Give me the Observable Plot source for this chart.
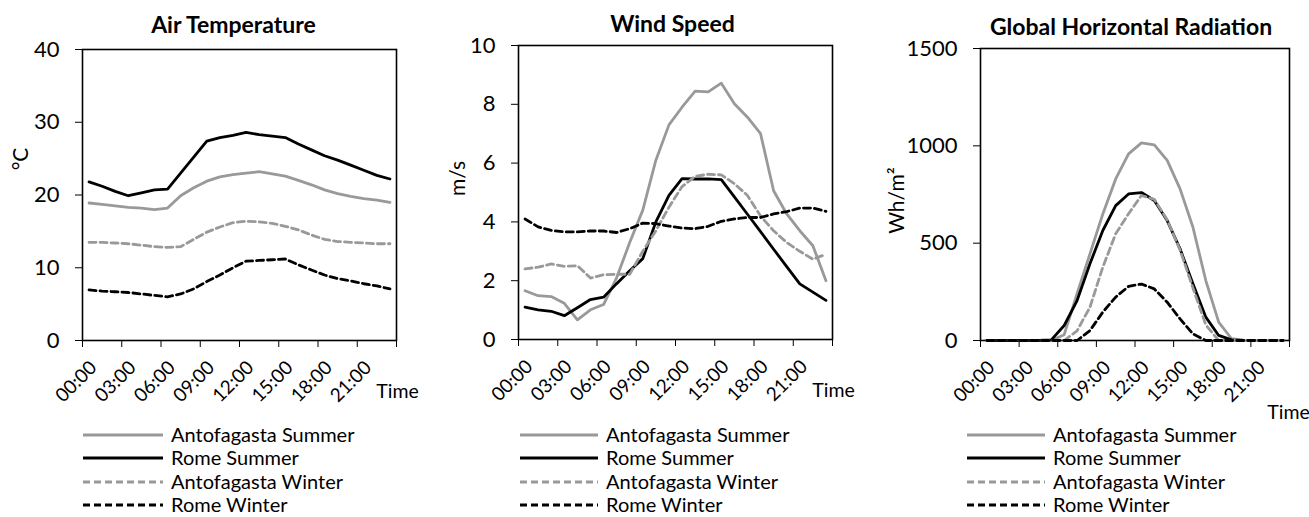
<!DOCTYPE html>
<html>
<head>
<meta charset="utf-8">
<script src="https://cdn.jsdelivr.net/npm/d3@7"></script>
<script src="https://cdn.jsdelivr.net/npm/@observablehq/plot@0.6"></script>
<style>
  html, body { margin: 0; padding: 0; background: #fff; }
  #root { position: relative; width: 1309px; height: 517px; overflow: hidden; font-family: Lato, "Open Sans", sans-serif; color: #000; }
  .panel { position: absolute; top: 0; }
  .leg { position: absolute; font-size: 20px; line-height: 20px; white-space: nowrap; }
  .leg svg { position: absolute; left: 0; top: 0; }
  .leg span { position: absolute; top: 0; }
</style>
</head>
<body>
<div id="root"></div>
<script>
// ---------- data ----------
const hours = [0,1,2,3,4,5,6,7,8,9,10,11,12,13,14,15,16,17,18,19,20,21,22,23];
const tickHours = [0,3,6,9,12,15,18,21];
const tickLabels = ["00:00","03:00","06:00","09:00","12:00","15:00","18:00","21:00"];
const seriesNames = ["Antofagasta Summer","Rome Summer","Antofagasta Winter","Rome Winter"];

// Air temperature (°C)
const tempAntofagastaSummer = [18.9,18.7,18.5,18.3,18.2,18.0,18.2,19.9,21.0,21.9,22.5,22.8,23.0,23.2,22.9,22.6,22.0,21.4,20.7,20.2,19.8,19.5,19.3,19.0];
const tempRomeSummer        = [21.8,21.2,20.5,19.9,20.3,20.7,20.8,23.0,25.2,27.4,27.9,28.2,28.6,28.3,28.1,27.9,27.0,26.2,25.4,24.8,24.1,23.4,22.7,22.2];
const tempAntofagastaWinter = [13.5,13.5,13.4,13.3,13.1,12.9,12.8,12.9,13.9,14.9,15.6,16.2,16.4,16.3,16.1,15.7,15.2,14.5,13.9,13.6,13.5,13.4,13.3,13.3];
const tempRomeWinter        = [6.95,6.8,6.7,6.6,6.4,6.2,6.0,6.4,7.1,8.1,9.0,10.0,10.9,11.0,11.1,11.2,10.4,9.7,9.0,8.5,8.2,7.8,7.5,7.1];

// Wind speed (m/s)
const windAntofagastaSummer = [1.66,1.49,1.46,1.23,0.67,1.01,1.19,2.1,3.3,4.4,6.1,7.3,7.9,8.45,8.42,8.72,8.02,7.56,7.0,5.06,4.27,3.7,3.19,2.0];
const windRomeSummer        = [1.10,1.01,0.96,0.81,1.08,1.36,1.44,1.9,2.34,2.75,4.0,4.9,5.47,5.46,5.46,5.44,4.85,4.26,3.67,3.07,2.48,1.89,1.61,1.33];
const windAntofagastaWinter = [2.40,2.46,2.57,2.49,2.51,2.09,2.2,2.22,2.22,3.0,3.7,4.5,5.2,5.55,5.62,5.6,5.3,4.9,4.2,3.7,3.3,3.0,2.73,2.9];
const windRomeWinter        = [4.1,3.83,3.71,3.66,3.66,3.69,3.69,3.64,3.77,3.96,3.94,3.86,3.79,3.77,3.85,4.02,4.1,4.15,4.15,4.27,4.35,4.47,4.47,4.36];

// Global horizontal radiation (Wh/m²)
const radAntofagastaSummer = [0,0,0,0,0,0,30,240,445,650,830,959,1015,1005,925,779,582,308,94,9,0,0,0,0];
const radRomeSummer        = [0,0,0,0,0,3,77,205,394,565,693,753,760,719,616,471,291,120,26,3,0,0,0,0];
const radAntofagastaWinter = [0,0,0,0,0,0,0,50,171,377,548,651,745,725,620,465,270,80,0,0,0,0,0,0];
const radRomeWinter        = [0,0,0,0,0,0,0,0,51,146,223,278,290,265,197,111,34,0,0,0,0,0,0,0];

const tempTicks = [0,10,20,30,40];
const windTicks = [0,2,4,6,8,10];
const radTicks  = [0,500,1000,1500];

// ---------- styles ----------
const seriesColors = ["#999999","#000000","#999999","#000000"];
const seriesDash   = [null, null, "7,4", "7,4"];
const lineWidth = 2.8;

function rows(valueArrays) {
  return valueArrays.flatMap((vals, si) =>
    vals.map((v, i) => ({hour: hours[i], value: v, series: seriesNames[si]})));
}

function panel(cfg) {
  const data = rows(cfg.values);
  const marks = [
    Plot.frame({stroke: "#000", strokeWidth: 1.6}),
    Plot.axisY({ticks: cfg.yTicks, tickSize: 7, tickPadding: cfg.tickPad, tickFormat: d => String(d), fontSize: 22, label: null}),
    Plot.axisX({ticks: [...tickHours, 24], tickSize: 7, tickFormat: () => "", label: null}),
    Plot.text(tickHours, {x: d => d, text: (d, i) => tickLabels[i], frameAnchor: "bottom",
      rotate: -45, textAnchor: "end", lineAnchor: "middle", dx: 11, dy: 24, fontSize: 19}),
    ...seriesNames.map((name, si) => Plot.line(data.filter(d => d.series === name), {
      x: d => d.hour + 0.5, y: "value",
      stroke: seriesColors[si], strokeWidth: lineWidth,
      strokeDasharray: seriesDash[si] ?? undefined
    })),
    Plot.text([cfg.title], {frameAnchor: "top", textAnchor: "middle", dx: cfg.titleDx, dy: cfg.titleDy, fontWeight: "bold", fontSize: 23, lineAnchor: "middle"}),
    Plot.text([cfg.yLabel], {frameAnchor: "left", textAnchor: "middle", rotate: -90, dx: cfg.ylDx, dy: cfg.ylDy, fontSize: 21, lineAnchor: "middle"}),
    Plot.text(["Time"], {frameAnchor: "bottom-right", textAnchor: "middle", dx: cfg.timeDx, dy: cfg.timeDy, fontSize: 19.5, lineAnchor: "middle"})
  ];
  const chart = Plot.plot({
    width: cfg.width, height: 425,
    marginLeft: cfg.ml, marginRight: cfg.mr, marginTop: cfg.mt, marginBottom: 425 - cfg.bottom,
    style: {fontFamily: "Lato, 'Open Sans', sans-serif", fontSize: "20px", color: "#000", background: "transparent", overflow: "visible"},
    x: {domain: [0, 24], axis: null},
    y: {domain: cfg.yDomain, axis: null},
    marks
  });
  const wrap = document.createElement("div");
  wrap.className = "panel";
  wrap.style.left = cfg.left + "px";
  wrap.appendChild(chart);
  return wrap;
}

function legend(sampleLeft, sampleWidth, textLeft) {
  const frag = document.createDocumentFragment();
  const rowY = [424, 447, 471, 494];
  seriesNames.forEach((name, si) => {
    const row = document.createElement("div");
    row.className = "leg";
    row.style.left = sampleLeft + "px";
    row.style.top = rowY[si] + "px";
    row.style.width = (textLeft - sampleLeft + 220) + "px";
    row.style.height = "20px";
    const ns = "http://www.w3.org/2000/svg";
    const svg = document.createElementNS(ns, "svg");
    svg.setAttribute("width", sampleWidth);
    svg.setAttribute("height", 20);
    const ln = document.createElementNS(ns, "line");
    ln.setAttribute("x1", 0); ln.setAttribute("x2", sampleWidth);
    ln.setAttribute("y1", 11); ln.setAttribute("y2", 11);
    ln.setAttribute("stroke", seriesColors[si]);
    ln.setAttribute("stroke-width", lineWidth);
    if (seriesDash[si]) ln.setAttribute("stroke-dasharray", seriesDash[si]);
    svg.appendChild(ln);
    const sp = document.createElement("span");
    sp.style.left = (textLeft - sampleLeft) + "px";
    sp.textContent = name;
    row.appendChild(svg);
    row.appendChild(sp);
    frag.appendChild(row);
  });
  return frag;
}

const root = document.getElementById("root");
root.appendChild(panel({
  left: 0, width: 436, ml: 82, mr: 40, mt: 49, bottom: 340,
  yDomain: [0, 40], yTicks: tempTicks, tickPad: 16,
  values: [tempAntofagastaSummer, tempRomeSummer, tempAntofagastaWinter, tempRomeWinter],
  title: "Air Temperature", titleDx: -6, titleDy: -24,
  yLabel: "°C", ylDx: -61, ylDy: -36,
  timeDx: 1, timeDy: 51
}));
root.appendChild(panel({
  left: 436, width: 436, ml: 82, mr: 40, mt: 45, bottom: 339,
  yDomain: [0, 10], yTicks: windTicks, tickPad: 16,
  values: [windAntofagastaSummer, windRomeSummer, windAntofagastaWinter, windRomeWinter],
  title: "Wind Speed", titleDx: -3, titleDy: -21,
  yLabel: "m/s", ylDx: -60, ylDy: -14,
  timeDx: 1, timeDy: 51
}));
root.appendChild(panel({
  left: 872, width: 437, ml: 108, mr: 20, mt: 48, bottom: 340,
  yDomain: [0, 1500], yTicks: radTicks, tickPad: 16,
  values: [radAntofagastaSummer, radRomeSummer, radAntofagastaWinter, radRomeWinter],
  title: "Global Horizontal Radiation", titleDx: -4, titleDy: -21,
  yLabel: "Wh/m²", ylDx: -83, ylDy: 6,
  timeDx: -1, timeDy: 72
}));
root.appendChild(legend(83, 80, 171));
root.appendChild(legend(520, 78, 606));
root.appendChild(legend(967, 78, 1053));
</script>
</body>
</html>
